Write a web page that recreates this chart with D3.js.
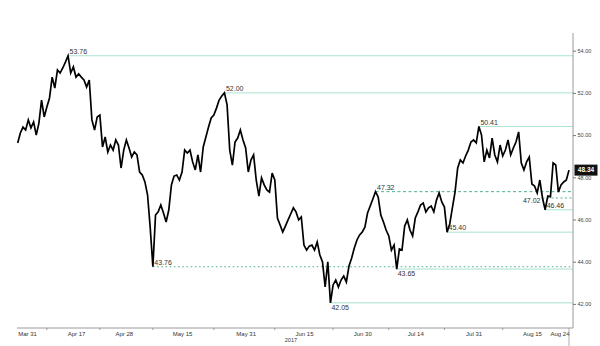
<!DOCTYPE html>
<html>
<head>
<meta charset="utf-8">
<script src="https://cdn.jsdelivr.net/npm/d3@7"></script>
<style>
  html, body { margin: 0; padding: 0; background: #fff; }
  svg { display: block; font-family: "Liberation Sans", Arial, sans-serif; }
</style>
</head>
<body>
<svg id="chart" width="600" height="346"></svg>
<script>
// Price readings, two per trading session, starting on the first session below.
const sessionStart = "2017-03-31";
const samplesPerSession = 2;
const closes = [
  49.63, 50.10, 50.38, 50.24, 50.72, 50.34, 50.62, 50.00, 50.57, 51.66,
  50.86, 51.33, 51.76, 52.75, 52.23, 53.09, 52.94, 53.18, 53.46, 53.76,
  52.94, 53.23, 52.75, 52.90, 52.75, 52.61, 52.28, 52.61, 50.72, 50.24,
  50.86, 50.95, 49.44, 49.91, 49.20, 49.53, 49.29, 49.77, 49.53, 48.44,
  49.29, 49.77, 49.39, 48.96, 49.20, 49.06, 48.25, 48.11, 47.78, 47.16,
  45.60, 43.76, 46.21, 46.36, 46.69, 46.31, 45.88, 46.45, 47.64, 48.06,
  48.11, 47.87, 48.25, 49.29, 49.15, 49.29, 48.73, 48.35, 49.06, 48.25,
  49.44, 49.91, 50.38, 50.81, 50.95, 51.28, 51.66, 51.85, 52.00, 51.43,
  49.29, 48.58, 49.67, 49.86, 50.24, 49.77, 49.39, 48.25, 48.82, 49.06,
  47.87, 47.11, 47.97, 47.64, 47.40, 47.30, 48.20, 47.87, 46.07, 45.74,
  45.41, 45.69, 45.98, 46.26, 46.55, 46.36, 45.98, 46.12, 44.79, 44.55,
  44.74, 44.79, 44.55, 44.93, 44.32, 43.99, 42.80, 43.99, 42.05, 42.90,
  43.13, 42.80, 43.13, 43.32, 43.04, 43.80, 44.18, 44.65, 45.03, 45.27,
  45.41, 45.64, 46.31, 46.64, 46.97, 47.32, 47.07, 46.21, 45.88, 45.50,
  45.22, 44.55, 44.79, 43.65, 44.60, 44.55, 45.69, 45.98, 45.50, 45.22,
  46.07, 46.36, 46.69, 46.78, 46.36, 46.55, 46.64, 46.36, 46.92, 47.26,
  46.83, 46.59, 45.40, 45.79, 46.55, 47.30, 48.44, 48.82, 48.68, 49.01,
  49.29, 49.67, 49.77, 49.63, 50.41, 50.00, 48.73, 49.29, 48.92, 49.86,
  49.06, 48.73, 49.53, 49.01, 49.29, 49.77, 49.06, 49.39, 49.67, 50.15,
  48.68, 48.35, 48.73, 48.96, 47.68, 47.59, 47.26, 47.87, 47.02, 46.46,
  47.11, 47.08, 48.68, 48.58, 47.30, 47.64, 47.78, 47.87, 48.34
];

// Date labels on the time axis
const tickDates = [
  "2017-03-31", "2017-04-17", "2017-04-28", "2017-05-15", "2017-05-31", "2017-06-15",
  "2017-06-30", "2017-07-14", "2017-07-31", "2017-08-15", "2017-08-24"
];
const yearLabel = "2017";

// Price axis
const yDomain = [42, 54];
const yTicks = [42, 44, 46, 48, 50, 52, 54];

// Annotated highs and lows, each drawn from the reading where it occurs
const levels = [53.76, 52.00, 50.41, 47.32, 47.02, 46.46, 45.40, 43.76, 43.65, 42.05];

// ---- drawing ----
const svg = d3.select("#chart");
const axisX = 573, baseY = 328;

const parse = d3.timeParse("%Y-%m-%d");
const t0 = parse(sessionStart);
const sessionIndex = d => d3.timeDay.range(t0, d).filter(v => v.getDay() % 6 !== 0).length;
const lastT = (closes.length - 1) / samplesPerSession;

const x = d3.scaleLinear().domain([0, lastT]).range([17.7, 569]);
const y = d3.scaleLinear().domain(yDomain).range([303.9, 50.7]);

const series = closes.map((v, i) => ({ t: i / samplesPerSession, v }));

// level line styles: solid mint, dashed/dotted teal
const levelStyle = {
  "53.76": { dash: null, place: "above" },
  "52.00": { dash: null, place: "above" },
  "50.41": { dash: null, place: "above" },
  "47.32": { dash: "3,2.5", place: "above" },
  "47.02": { dash: "2,2.5", place: "left" },
  "46.46": { dash: null, place: "above" },
  "45.40": { dash: null, place: "above" },
  "43.76": { dash: "1.6,2.6", place: "above" },
  "43.65": { dash: null, place: "below" },
  "42.05": { dash: null, place: "below" }
};

const levelMarks = levels.map(lv => {
  const key = lv.toFixed(2);
  const idx = closes.findIndex(c => c === lv);
  return { key, lv, st: levelStyle[key], px: x(series[idx].t), py: y(lv) };
});

// level lines sit under the price line
svg.append("g").selectAll("line").data(levelMarks).join("line")
  .attr("x1", d => d.px).attr("x2", axisX)
  .attr("y1", d => d.py).attr("y2", d => d.py)
  .attr("stroke", d => d.st.dash ? "#4fb090" : "#a9e3cf")
  .attr("stroke-width", 1)
  .attr("stroke-dasharray", d => d.st.dash);

// price line
svg.append("path")
  .datum(series)
  .attr("fill", "none")
  .attr("stroke", "#000")
  .attr("stroke-width", 1.7)
  .attr("stroke-linejoin", "miter")
  .attr("d", d3.line().x(d => x(d.t)).y(d => y(d.v)));

// level labels on top
const gLab = svg.append("g");
levelMarks.forEach(d => {
  const t = gLab.append("text")
    .text(d.key)
    .attr("font-size", 7)
    .attr("fill", "#333");
  if (d.st.place === "above") {
    t.attr("x", d.px + 1.5).attr("y", d.py - 1.8);
  } else if (d.st.place === "below") {
    t.attr("x", d.px + 1).attr("y", d.py + 7);
  } else {
    t.attr("x", d.px - 2).attr("y", d.py + 5.5).attr("text-anchor", "end");
  }
});

// time axis
const fmt = d3.timeFormat("%b %d");
const tickT = tickDates.map(d => sessionIndex(parse(d)));
svg.append("line")
  .attr("x1", 17).attr("x2", axisX)
  .attr("y1", baseY).attr("y2", baseY)
  .attr("stroke", "#9a9a9a").attr("stroke-width", 1);

const xAxis = d3.axisBottom(x)
  .tickValues(tickT)
  .tickSize(0)
  .tickPadding(3.5)
  .tickFormat((d, i) => fmt(parse(tickDates[i])));
const gx = svg.append("g").attr("transform", `translate(0,${baseY})`).call(xAxis);
gx.select(".domain").remove();
gx.selectAll("text")
  .attr("font-size", 6)
  .attr("fill", "#333")
  .attr("font-family", "Liberation Sans, Arial, sans-serif")
  .attr("text-anchor", (d, i) => i === 0 ? "start" : (i === tickT.length - 1 ? "end" : "middle"));

// small separators between date labels
const mids = d3.pairs(tickT).slice(0, -1).map(([a, b]) => (a + b) / 2);
svg.append("g").selectAll("line").data(mids).join("line")
  .attr("x1", d => x(d)).attr("x2", d => x(d))
  .attr("y1", baseY).attr("y2", baseY + 2)
  .attr("stroke", "#888").attr("stroke-width", 0.8);

// current-session marker below the axis
svg.append("line")
  .attr("x1", x(lastT)).attr("x2", x(lastT))
  .attr("y1", baseY).attr("y2", 346)
  .attr("stroke", "#999").attr("stroke-width", 0.8);

svg.append("text")
  .attr("x", x(tickT[5]) - 13)
  .attr("y", baseY + 14)
  .attr("text-anchor", "middle")
  .attr("font-size", 5.5)
  .attr("fill", "#333")
  .text(yearLabel);

// price axis on the right
svg.append("line")
  .attr("x1", axisX).attr("x2", axisX)
  .attr("y1", 33).attr("y2", baseY)
  .attr("stroke", "#9a9a9a").attr("stroke-width", 1);
const yAxis = d3.axisRight(y)
  .tickValues(yTicks)
  .tickSize(3)
  .tickPadding(1.5)
  .tickFormat(d3.format(".2f"));
const gy = svg.append("g").attr("transform", `translate(${axisX},0)`).call(yAxis);
gy.select(".domain").remove();
gy.selectAll("line").attr("stroke", "#777");
gy.selectAll("text")
  .attr("font-size", 5.5)
  .attr("fill", "#444")
  .attr("font-family", "Liberation Sans, Arial, sans-serif");

// last price badge
const last = closes[closes.length - 1];
svg.append("rect")
  .attr("x", axisX + 1.5).attr("y", y(last) - 5.5)
  .attr("width", 23).attr("height", 11)
  .attr("fill", "#111");
svg.append("text")
  .attr("x", axisX + 13).attr("y", y(last) + 2.3)
  .attr("text-anchor", "middle")
  .attr("font-size", 6.5)
  .attr("font-weight", "bold")
  .attr("fill", "#fff")
  .text(last.toFixed(2));
</script>
</body>
</html>
